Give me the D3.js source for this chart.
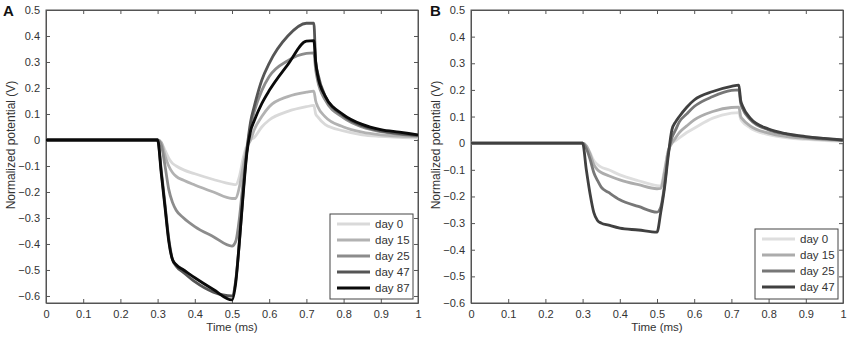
<!DOCTYPE html>
<html>
<head>
<meta charset="utf-8">
<script src="https://cdn.jsdelivr.net/npm/d3@7"></script>
<style>
  body { margin: 0; background: #fff; }
  svg { display: block; font-family: "Liberation Sans", Arial, sans-serif; }
</style>
</head>
<body>
<svg id="chart" width="851" height="338"></svg>
<script>
// ---------- data ----------
const time = [0, 0.3, 0.31, 0.32, 0.33, 0.34, 0.35, 0.37, 0.4, 0.45, 0.5, 0.51, 0.52, 0.53, 0.54, 0.55, 0.56, 0.58, 0.6, 0.65, 0.7, 0.72, 0.725, 0.73, 0.75, 0.8, 0.85, 0.9, 0.95, 1];

const xTicks = [0, 0.1, 0.2, 0.3, 0.4, 0.5, 0.6, 0.7, 0.8, 0.9, 1];
const yTicks = [0.5, 0.4, 0.3, 0.2, 0.1, 0, -0.1, -0.2, -0.3, -0.4, -0.5, -0.6];

// Panel A
const seriesA = ["day 0", "day 15", "day 25", "day 47", "day 87"];
const colorsA = ["#d9d9d9", "#b2b2b2", "#8c8c8c", "#555555", "#0a0a0a"];
const a_day0  = [0, 0, -0.01, -0.04, -0.07, -0.09, -0.10, -0.115, -0.13, -0.152, -0.17, -0.172, -0.14, -0.07, -0.02, 0.0, 0.01, 0.05, 0.077, 0.11, 0.128, 0.133, 0.10, 0.09, 0.06, 0.035, 0.02, 0.014, 0.01, 0.008];
const a_day15 = [0, 0, -0.01, -0.06, -0.10, -0.125, -0.14, -0.155, -0.173, -0.20, -0.225, -0.225, -0.18, -0.10, -0.03, 0.0, 0.04, 0.09, 0.128, 0.167, 0.184, 0.188, 0.15, 0.13, 0.09, 0.05, 0.03, 0.02, 0.015, 0.012];
const a_day25 = [0, 0, -0.02, -0.10, -0.19, -0.24, -0.27, -0.30, -0.333, -0.372, -0.408, -0.39, -0.30, -0.16, -0.04, 0.05, 0.11, 0.19, 0.244, 0.305, 0.333, 0.335, 0.27, 0.23, 0.155, 0.085, 0.05, 0.032, 0.022, 0.016];
const a_day47 = [0, 0, -0.12, -0.25, -0.38, -0.46, -0.485, -0.51, -0.545, -0.585, -0.60, -0.54, -0.39, -0.20, -0.04, 0.07, 0.13, 0.23, 0.295, 0.40, 0.449, 0.449, 0.30, 0.26, 0.17, 0.093, 0.055, 0.035, 0.025, 0.018];
const a_day87 = [0, 0, -0.13, -0.26, -0.39, -0.46, -0.48, -0.50, -0.53, -0.575, -0.615, -0.55, -0.39, -0.21, -0.05, 0.035, 0.075, 0.14, 0.19, 0.29, 0.38, 0.382, 0.30, 0.25, 0.17, 0.097, 0.06, 0.04, 0.03, 0.02];

// Panel B
const seriesB = ["day 0", "day 15", "day 25", "day 47"];
const colorsB = ["#dedede", "#acacac", "#777777", "#404040"];
const b_day0  = [0, 0, -0.01, -0.035, -0.065, -0.08, -0.09, -0.10, -0.119, -0.141, -0.159, -0.16, -0.10, -0.03, 0.0, 0.01, 0.02, 0.04, 0.056, 0.094, 0.1125, 0.115, 0.09, 0.08, 0.058, 0.032, 0.02, 0.014, 0.01, 0.007];
const b_day15 = [0, 0, -0.01, -0.04, -0.08, -0.10, -0.11, -0.122, -0.1375, -0.156, -0.171, -0.17, -0.11, -0.03, 0.0, 0.02, 0.04, 0.065, 0.0875, 0.119, 0.134, 0.135, 0.10, 0.09, 0.065, 0.038, 0.025, 0.018, 0.013, 0.01];
const b_day25 = [0, 0, -0.02, -0.06, -0.11, -0.14, -0.165, -0.185, -0.2125, -0.2375, -0.259, -0.24, -0.16, -0.04, 0.02, 0.05, 0.08, 0.11, 0.1375, 0.175, 0.198, 0.20, 0.15, 0.13, 0.09, 0.05, 0.033, 0.023, 0.016, 0.011];
const b_day47 = [0, 0, -0.10, -0.19, -0.26, -0.29, -0.30, -0.308, -0.319, -0.326, -0.334, -0.26, -0.17, -0.05, 0.05, 0.08, 0.10, 0.135, 0.162, 0.194, 0.213, 0.218, 0.16, 0.14, 0.095, 0.053, 0.035, 0.025, 0.018, 0.012];

const panels = [
  { label: "A", names: seriesA, colors: colorsA, values: [a_day0, a_day15, a_day25, a_day47, a_day87],
    left: 46, right: 418, top: 10, bottom: 303, yMin: -0.627, yMax: 0.5,
    legend: { x: 330, y: 214, w: 83, h: 85 } },
  { label: "B", names: seriesB, colors: colorsB, values: [b_day0, b_day15, b_day25, b_day47],
    left: 471, right: 843, top: 10, bottom: 303, yMin: -0.6, yMax: 0.5,
    legend: { x: 755, y: 229, w: 83, h: 70 } }
];

const svg = d3.select("#chart");
const axisColor = "#555";
const textColor = "#333";

panels.forEach((p, pi) => {
  const x = d3.scaleLinear().domain([0, 1]).range([p.left, p.right]);
  const y = d3.scaleLinear().domain([p.yMin, p.yMax]).range([p.bottom, p.top]);
  const g = svg.append("g");

  const fmt = d => (d === 0 ? "0" : d3.format("")(+d.toFixed(1)));
  const bottomAxis = d3.axisBottom(x).tickValues(xTicks).tickSizeInner(-4).tickSizeOuter(0).tickPadding(7).tickFormat(fmt);
  const topAxis = d3.axisTop(x).tickValues(xTicks).tickSizeInner(-4).tickSizeOuter(0).tickFormat("");
  const leftAxis = d3.axisLeft(y).tickValues(yTicks).tickSizeInner(-4).tickSizeOuter(0).tickPadding(6).tickFormat(fmt);
  const rightAxis = d3.axisRight(y).tickValues(yTicks).tickSizeInner(-4).tickSizeOuter(0).tickFormat("");

  const gb = g.append("g").attr("transform", `translate(0,${p.bottom})`).call(bottomAxis);
  const gt = g.append("g").attr("transform", `translate(0,${p.top})`).call(topAxis);
  const gl = g.append("g").attr("transform", `translate(${p.left},0)`).call(leftAxis);
  const gr = g.append("g").attr("transform", `translate(${p.right},0)`).call(rightAxis);
  [gb, gt, gl, gr].forEach(a => {
    a.select(".domain").attr("stroke", axisColor).attr("stroke-width", 1);
    a.selectAll(".tick line").attr("stroke", axisColor);
    a.selectAll(".tick text").attr("fill", textColor).style("font-size", "11px");
  });
  g.append("rect").attr("x", p.left).attr("y", p.top)
    .attr("width", p.right - p.left).attr("height", p.bottom - p.top)
    .attr("fill", "none").attr("stroke", axisColor).attr("stroke-width", 1);

  const line = d3.line().x((d, i) => x(time[i])).y(d => y(d)).curve(d3.curveMonotoneX);
  const clipId = "clip" + pi;
  svg.append("clipPath").attr("id", clipId).append("rect")
    .attr("x", p.left).attr("y", p.top - 2).attr("width", p.right - p.left).attr("height", p.bottom - p.top + 4);
  const lg = g.append("g").attr("clip-path", `url(#${clipId})`);
  p.values.forEach((vals, i) => {
    lg.append("path").datum(vals).attr("d", line)
      .attr("fill", "none").attr("stroke", p.colors[i])
      .attr("stroke-width", 2.8).attr("stroke-linejoin", "round");
  });

  g.append("text").attr("x", (p.left + p.right) / 2).attr("y", 331)
    .attr("text-anchor", "middle").attr("fill", textColor).style("font-size", "11.5px").text("Time (ms)");
  g.append("text").attr("transform", `translate(${p.left - 31},145) rotate(-90)`)
    .attr("text-anchor", "middle").attr("fill", textColor).style("font-size", "12px").text("Normalized potential (V)");
  g.append("text").attr("x", pi === 0 ? 3 : 430).attr("y", 16)
    .attr("fill", "#111").style("font-size", "15px").style("font-weight", "bold").text(p.label);

  const L = p.legend;
  const leg = g.append("g");
  leg.append("rect").attr("x", L.x).attr("y", L.y).attr("width", L.w).attr("height", L.h)
    .attr("fill", "#fff").attr("stroke", "#444").attr("stroke-width", 1);
  p.names.forEach((n, i) => {
    const ry = L.y + 10 + i * 16;
    leg.append("line").attr("x1", L.x + 7).attr("x2", L.x + 40).attr("y1", ry).attr("y2", ry)
      .attr("stroke", p.colors[i]).attr("stroke-width", 3);
    leg.append("text").attr("x", L.x + 45).attr("y", ry + 4)
      .attr("fill", textColor).style("font-size", "11.5px").text(n);
  });
});
</script>
</body>
</html>
